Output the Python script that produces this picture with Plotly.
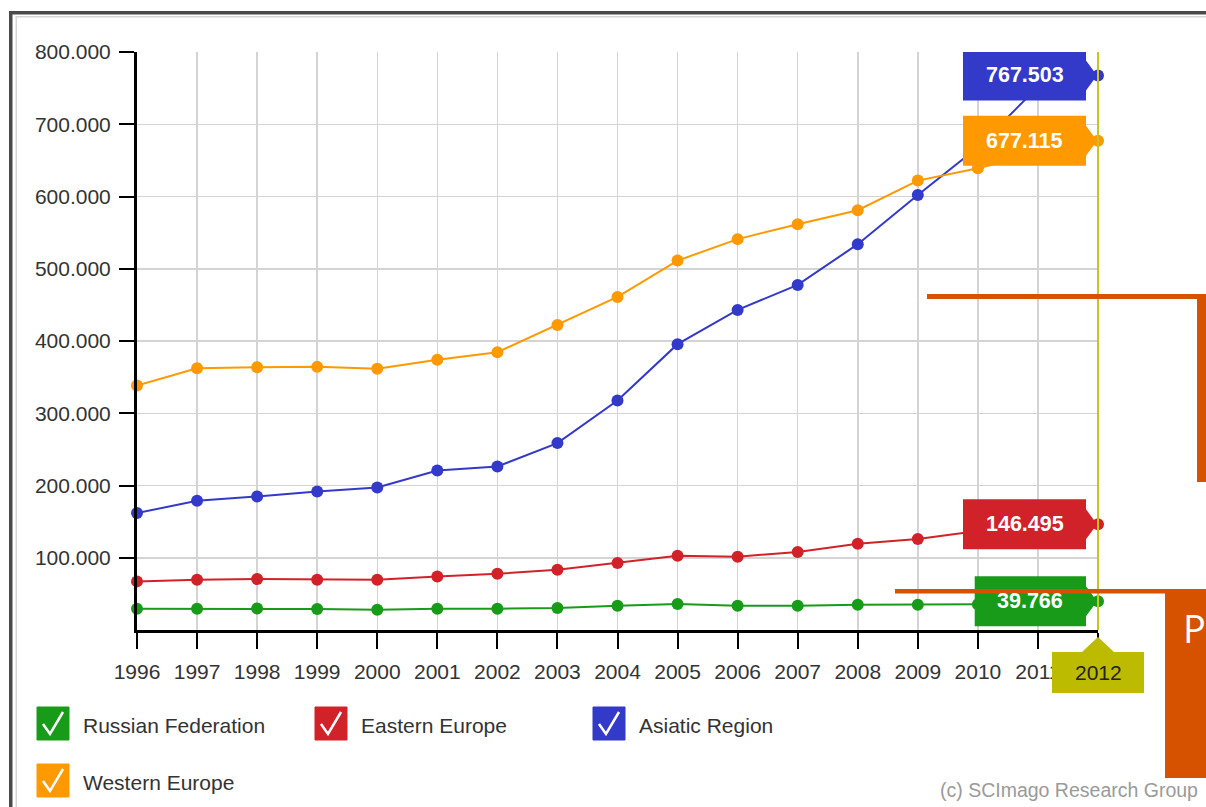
import plotly.graph_objects as go

# ---------------- data ----------------
years = list(range(1996, 2013))
year_labels = [str(y) for y in years]

russian_federation = [29500, 29500, 29900, 29000, 28000, 29500, 29500, 30400, 33600, 35900,
                      33600, 33600, 35000, 35000, 35500, 37500, 39766]
eastern_europe = [67300, 69600, 70500, 69600, 69600, 74200, 77900, 83400, 92600, 102800,
                  101500, 108000, 119400, 126000, 137000, 142000, 146495]
asiatic_region = [161800, 178900, 184800, 191700, 197300, 220800, 226300, 258700, 317600, 395600,
                  443000, 477600, 534000, 602000, 668000, 752000, 767503]
western_europe = [338400, 362400, 363800, 364200, 361500, 373900, 384500, 422300, 461000, 511300,
                  541000, 561600, 581000, 622000, 639000, 660000, 677115]

y_tick_values = [100000, 200000, 300000, 400000, 500000, 600000, 700000, 800000]

series_names = ["Russian Federation", "Eastern Europe", "Asiatic Region", "Western Europe"]
series_values = [russian_federation, eastern_europe, asiatic_region, western_europe]
series_colors = ["#189B18", "#D12229", "#3339C8", "#FF9900"]

# ---------------- layout geometry (page pixels) ----------------
W, H = 1206, 807
L, R, T, B = 137, 1098, 52, 630


def px(xp):
    return (xp - L) / (R - L)


def py(yp):
    return (B - yp) / (B - T)


FONT = "Liberation Sans, Arial, sans-serif"

fig = go.Figure()

for name, vals, col in zip(series_names, series_values, series_colors):
    fig.add_trace(go.Scatter(
        x=years, y=vals, mode="lines+markers", name=name,
        line=dict(color=col, width=2),
        marker=dict(color=col, size=12),
        cliponaxis=False, hoverinfo="skip",
    ))

shapes = []
annotations = []

# outer frame of the screenshot
shapes += [
    dict(type="rect", xref="paper", yref="paper", x0=px(9), x1=px(W + 5), y0=py(11), y1=py(14.5),
         fillcolor="#4a4a4a", line=dict(width=0), layer="above"),
    dict(type="rect", xref="paper", yref="paper", x0=px(9), x1=px(12.5), y0=py(11), y1=py(H + 5),
         fillcolor="#4a4a4a", line=dict(width=0), layer="above"),
    dict(type="rect", xref="paper", yref="paper", x0=px(15.5), x1=px(17), y0=py(16), y1=py(H + 5),
         fillcolor="#d6d6d6", line=dict(width=0), layer="above"),
    dict(type="rect", xref="paper", yref="paper", x0=px(15.5), x1=px(W + 5), y0=py(16), y1=py(17.5),
         fillcolor="#d6d6d6", line=dict(width=0), layer="above"),
]

# highlighted last year line
shapes.append(dict(type="line", xref="paper", yref="paper", x0=1, x1=1, y0=0, y1=1,
                   line=dict(color="#C8C420", width=2), layer="above"))

# value callouts at 2012
for name, vals, col in zip(series_names, series_values, series_colors):
    v = vals[-1]
    txt = f"{v:,}".replace(",", ".")
    ndig = sum(c.isdigit() for c in txt)
    tw = ndig * 11.7 + 5.8
    left = -12 - (tw + 47)
    path = (f"M {left},25 L -12,25 L -12,15 L -1,0 L -12,-15 L -12,-25 L {left},-25 Z")
    shapes.append(dict(type="path", xref="x", yref="y", xsizemode="pixel", ysizemode="pixel",
                       xanchor=years[-1], yanchor=v, path=path, fillcolor=col,
                       line=dict(width=0), layer="above"))
    annotations.append(dict(x=years[-1], y=v, xref="x", yref="y", text=f"<b>{txt}</b>",
                            showarrow=False, xanchor="center", yanchor="middle",
                            xshift=(left - 12) / 2,
                            font=dict(family=FONT, size=21.5, color="white")))

# last year label box
shapes.append(dict(type="path", xref="paper", yref="paper", xsizemode="pixel", ysizemode="pixel",
                   xanchor=1, yanchor=0,
                   path="M -46,-22 L -16,-22 L 0,-7 L 16,-22 L 46,-22 L 46,-63 L -46,-63 Z",
                   fillcolor="#BDBB00", line=dict(width=0), layer="above"))
annotations.append(dict(x=1, y=py(672), xref="paper", yref="paper", text=year_labels[-1],
                        showarrow=False, xanchor="center", yanchor="middle",
                        font=dict(family=FONT, size=21, color="#222")))

# custom legend with check boxes
legend_pos = [(37, 707), (315, 707), (593, 707), (37, 764)]
for (bx, by), name, col in zip(legend_pos, series_names, series_colors):
    shapes.append(dict(type="rect", xref="paper", yref="paper",
                       x0=px(bx), x1=px(bx + 32), y0=py(by), y1=py(by + 33),
                       fillcolor=col, line=dict(color=col, width=1), layer="above"))
    chk = (f"M {px(bx + 6)},{py(by + 17)} L {px(bx + 13)},{py(by + 27)} "
           f"L {px(bx + 26)},{py(by + 5)}")
    shapes.append(dict(type="path", xref="paper", yref="paper", path=chk,
                       line=dict(color="white", width=2.5), layer="above"))
    annotations.append(dict(x=px(bx + 44), y=py(by + 18), xref="paper", yref="paper", text=name,
                            showarrow=False, xanchor="left", yanchor="middle",
                            font=dict(family=FONT, size=21, color="#333")))

annotations.append(dict(x=px(938), y=py(790), xref="paper", yref="paper",
                        text="(c) SCImago Research Group", showarrow=False,
                        xanchor="left", yanchor="middle",
                        font=dict(family=FONT, size=19.5, color="#9a9a9a")))

# overlaid slide decorations (orange)
ORG = "#D65100"
shapes += [
    dict(type="rect", xref="paper", yref="paper", x0=px(927), x1=px(W + 5), y0=py(294), y1=py(299),
         fillcolor=ORG, line=dict(width=0), layer="above"),
    dict(type="rect", xref="paper", yref="paper", x0=px(1197), x1=px(W + 5), y0=py(294), y1=py(482),
         fillcolor=ORG, line=dict(width=0), layer="above"),
    dict(type="rect", xref="paper", yref="paper", x0=px(895), x1=px(1166), y0=py(589), y1=py(593.5),
         fillcolor=ORG, line=dict(width=0), layer="above"),
    dict(type="rect", xref="paper", yref="paper", x0=px(1165), x1=px(W + 5), y0=py(589), y1=py(778),
         fillcolor=ORG, line=dict(width=0), layer="above"),
]
annotations.append(dict(x=px(1181), y=py(628), xref="paper", yref="paper", text="P",
                        showarrow=False, xanchor="left", yanchor="middle",
                        font=dict(family="Open Sans, sans-serif", size=38, color="white")))

fig.update_layout(
    width=W, height=H, autosize=False,
    margin=dict(l=L, r=W - R, t=T, b=H - B, pad=0),
    paper_bgcolor="white", plot_bgcolor="white",
    showlegend=False, hovermode=False,
    separators=",.",
    shapes=shapes, annotations=annotations,
    xaxis=dict(range=[years[0], years[-1]], tickvals=years,
               ticktext=year_labels[:-1] + [""],
               showgrid=True, gridcolor="#d4d4d4", gridwidth=1.5,
               showline=True, linecolor="black", linewidth=3,
               ticks="outside", ticklen=16, tickwidth=2, tickcolor="black",
               ticklabelstandoff=5,
               tickfont=dict(family=FONT, size=21, color="#333"),
               zeroline=False, fixedrange=True),
    yaxis=dict(range=[0, 800000], tickvals=y_tick_values, tickformat=",",
               showgrid=True, gridcolor="#d4d4d4", gridwidth=1.5,
               showline=True, linecolor="black", linewidth=3,
               ticks="outside", ticklen=15, tickwidth=2, tickcolor="black",
               ticklabelstandoff=4,
               tickfont=dict(family=FONT, size=21, color="#333"),
               zeroline=False, fixedrange=True),
)

fig.write_html("out.html", config={"displayModeBar": False, "staticPlot": True},
               post_script="document.body.style.margin='0';document.body.style.overflow='hidden';")
